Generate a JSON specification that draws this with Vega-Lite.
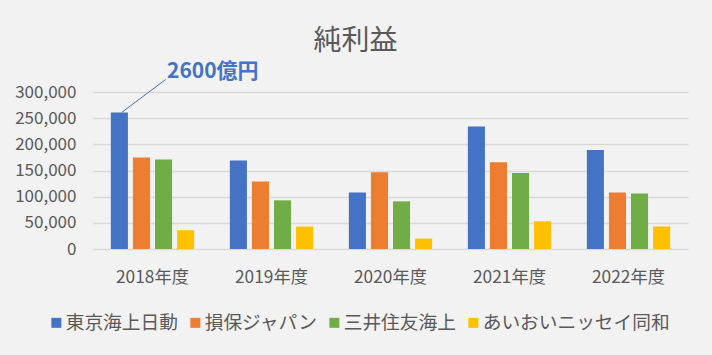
{
  "$schema": "https://vega.github.io/schema/vega-lite/v6.json",
  "autosize": {"type": "none"},
  "width": 595,
  "height": 157,
  "padding": {"left": 93, "top": 92, "right": 24, "bottom": 106},
  "background": "#f2f2f2",
  "title": {"text": "純利益", "fontSize": 28, "font": "Noto Sans CJK JP", "fontWeight": "normal", "color": "#595959", "frame": "group", "anchor": "middle", "dx": -35, "offset": 5},
  "config": {"view": {"stroke": null}, "font": "Noto Sans CJK JP",
    "axisY": {"title": null, "tickCount": 7, "labelOverlap": false, "format": ",d", "domain": false, "ticks": false, "labelPadding": 17, "labelFontSize": 17, "labelColor": "#595959", "gridColor": "#d9d9d9", "gridWidth": 1.5, "labelFont": "Noto Sans CJK JP"}},
  "datasets": {
    "profit": [
      {"year": "2018年度", "company": "東京海上日動", "value": 261000},
      {"year": "2018年度", "company": "損保ジャパン", "value": 175000},
      {"year": "2018年度", "company": "三井住友海上", "value": 171000},
      {"year": "2018年度", "company": "あいおいニッセイ同和", "value": 36000},
      {"year": "2019年度", "company": "東京海上日動", "value": 169000},
      {"year": "2019年度", "company": "損保ジャパン", "value": 129000},
      {"year": "2019年度", "company": "三井住友海上", "value": 93000},
      {"year": "2019年度", "company": "あいおいニッセイ同和", "value": 43000},
      {"year": "2020年度", "company": "東京海上日動", "value": 108000},
      {"year": "2020年度", "company": "損保ジャパン", "value": 146500},
      {"year": "2020年度", "company": "三井住友海上", "value": 91000},
      {"year": "2020年度", "company": "あいおいニッセイ同和", "value": 20000},
      {"year": "2021年度", "company": "東京海上日動", "value": 234000},
      {"year": "2021年度", "company": "損保ジャパン", "value": 166000},
      {"year": "2021年度", "company": "三井住友海上", "value": 145000},
      {"year": "2021年度", "company": "あいおいニッセイ同和", "value": 53000},
      {"year": "2022年度", "company": "東京海上日動", "value": 189000},
      {"year": "2022年度", "company": "損保ジャパン", "value": 108000},
      {"year": "2022年度", "company": "三井住友海上", "value": 106000},
      {"year": "2022年度", "company": "あいおいニッセイ同和", "value": 43000}
    ],
    "callout": [
      {"ax": 0.241, "ay": 261000},
      {"ax": 0.611, "ay": 324000}
    ],
    "label": [
      {"ax": 0.622, "ay": 338000, "label": "2600億円"}
    ]
  },
  "layer": [
    {
      "data": {"name": "profit"},
      "mark": {"type": "bar"},
      "encoding": {
        "x": {"field": "year", "type": "nominal", "scale": {"paddingInner": 0.3, "paddingOuter": 0.15},
              "axis": {"title": null, "labelAngle": 0, "domain": false, "ticks": false, "labelPadding": 19, "labelFontSize": 17.3, "labelColor": "#595959", "labelFont": "Noto Sans CJK JP"}},
        "xOffset": {"field": "company", "type": "nominal", "sort": ["東京海上日動", "損保ジャパン", "三井住友海上", "あいおいニッセイ同和"], "scale": {"paddingInner": 0.227}},
        "y": {"field": "value", "type": "quantitative", "scale": {"domain": [0, 300000]}, "title": null, "axis": {"values": [0, 50000, 100000, 150000, 200000, 250000, 300000], "tickCount": 7}},
        "color": {"field": "company", "type": "nominal", "sort": ["東京海上日動", "損保ジャパン", "三井住友海上", "あいおいニッセイ同和"],
                  "scale": {"domain": ["東京海上日動", "損保ジャパン", "三井住友海上", "あいおいニッセイ同和"], "range": ["#4472c4", "#ed7d31", "#70ad47", "#ffc000"]},
                  "legend": {"title": null, "orient": "none", "direction": "horizontal", "legendX": -46, "legendY": 221, "symbolType": "square", "symbolSize": 100, "symbolStrokeWidth": 0, "symbolOpacity": 1, "labelFontSize": 18.7, "labelColor": "#595959", "labelFont": "Noto Sans CJK JP", "columnPadding": 8, "labelOffset": 0, "labelLimit": 400}}
      }
    },
    {
      "data": {"name": "callout"},
      "mark": {"type": "line", "color": "#4472c4", "strokeWidth": 1},
      "encoding": {
        "x": {"field": "ax", "type": "quantitative", "scale": {"domain": [0, 5], "nice": false, "zero": false}, "axis": null},
        "y": {"field": "ay", "type": "quantitative", "scale": {"domain": [0, 300000]}, "title": null, "axis": {"values": [0, 50000, 100000, 150000, 200000, 250000, 300000], "tickCount": 7}}
      }
    },
    {
      "data": {"name": "label"},
      "mark": {"type": "text", "align": "left", "baseline": "middle", "fontSize": 21, "fontWeight": "bold", "color": "#4472c4", "font": "Noto Sans CJK JP"},
      "encoding": {
        "x": {"field": "ax", "type": "quantitative", "scale": {"domain": [0, 5], "nice": false, "zero": false}, "axis": null},
        "y": {"field": "ay", "type": "quantitative", "scale": {"domain": [0, 300000]}, "title": null, "axis": {"values": [0, 50000, 100000, 150000, 200000, 250000, 300000], "tickCount": 7}},
        "text": {"field": "label"}
      }
    }
  ],
  "resolve": {"scale": {"x": "independent"}}
}
